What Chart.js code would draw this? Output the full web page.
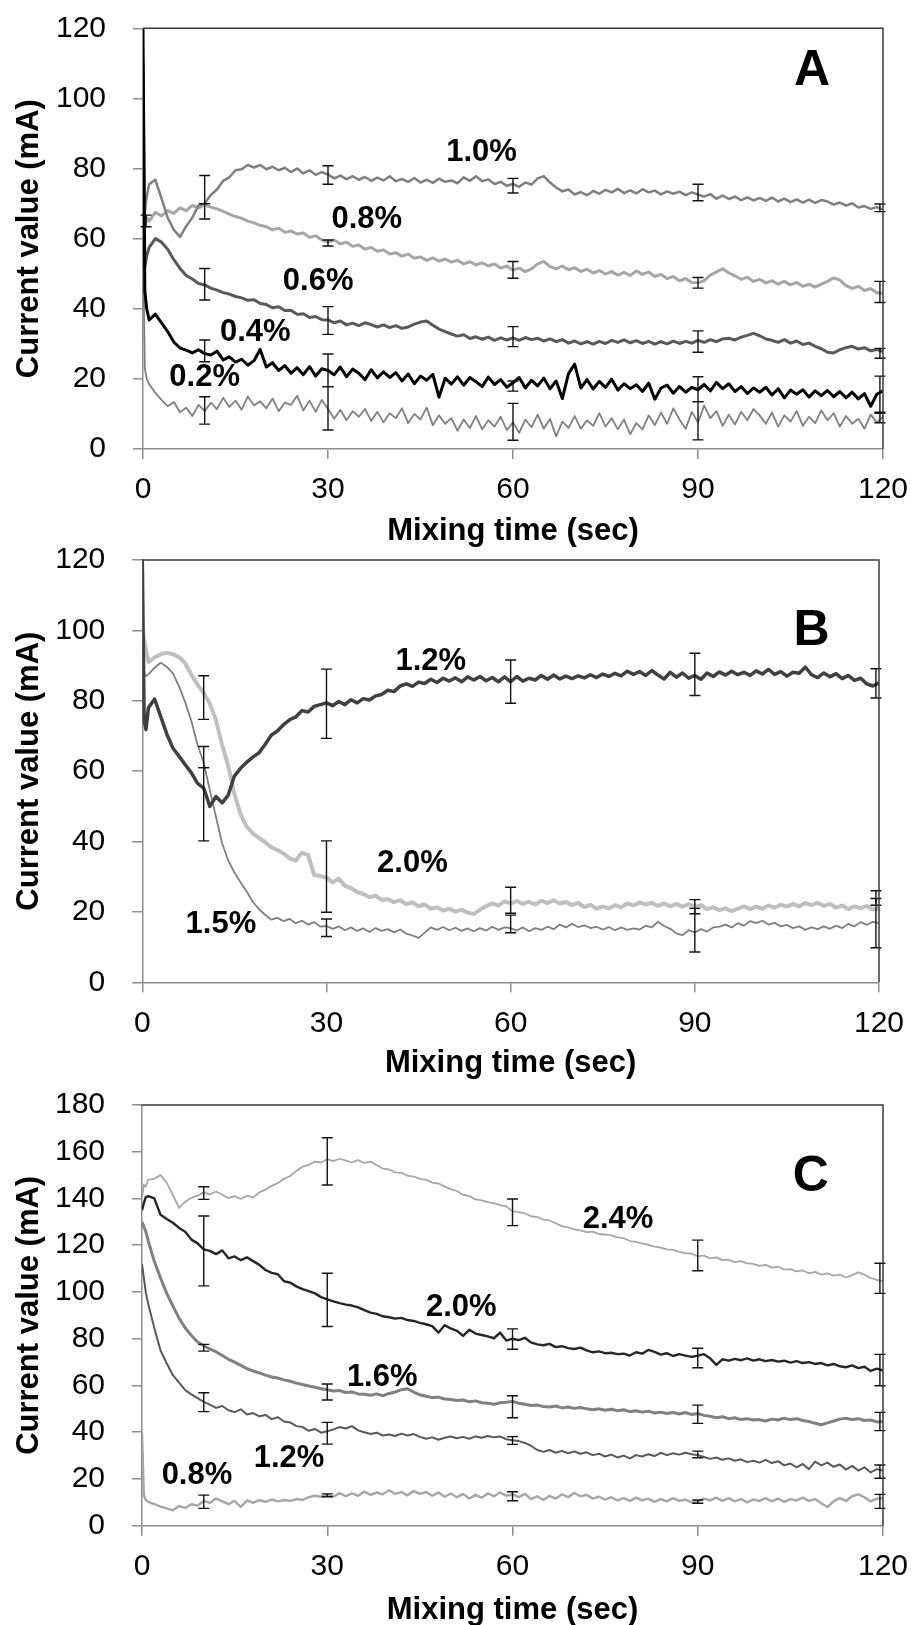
<!DOCTYPE html>
<html><head><meta charset="utf-8">
<script src="https://cdn.jsdelivr.net/npm/chart.js@4.4.1/dist/chart.umd.min.js"></script>
<style>
html,body{margin:0;padding:0;background:#fff;width:914px;height:1625px;overflow:hidden}
canvas{position:absolute;left:0}
</style></head><body>
<canvas id="cA" width="914" height="550" style="top:0px"></canvas>
<canvas id="cB" width="914" height="555" style="top:530px"></canvas>
<canvas id="cC" width="914" height="565" style="top:1065px"></canvas>
<script>
// ---------- shared sampling times (sec) ----------
const timeSec = [0, 0.3, 0.6, 1, 2, 3, 4, 5, 6, 7,
 8, 9, 10, 11, 12, 13, 14, 15, 16, 17,
 18, 19, 20, 21, 22, 23, 24, 25, 26, 27,
 28, 29, 30, 31, 32, 33, 34, 35, 36, 37,
 38, 39, 40, 41, 42, 43, 44, 45, 46, 47,
 48, 49, 50, 51, 52, 53, 54, 55, 56, 57,
 58, 59, 60, 61, 62, 63, 64, 65, 66, 67,
 68, 69, 70, 71, 72, 73, 74, 75, 76, 77,
 78, 79, 80, 81, 82, 83, 84, 85, 86, 87,
 88, 89, 90, 91, 92, 93, 94, 95, 96, 97,
 98, 99, 100, 101, 102, 103, 104, 105, 106, 107,
 108, 109, 110, 111, 112, 113, 114, 115, 116, 117,
 118, 119, 120];
const xTicksSec = [0, 30, 60, 90, 120];
const errTimes = [10, 30, 60, 90, 119.5];
const errTimesA = [0.5, 10, 30, 60, 90, 119.5];

// ---------- Panel A (mA) ----------
const panelA_10 = [65, 68, 72, 75.5, 76.8, 71.5, 66, 62.5, 60.5, 63.5,
 66, 69.5, 70, 72.5, 74, 76.5, 77.5, 79.5, 79.8, 81,
 80.3, 81, 79.8, 80.5, 79.5, 80.2, 79, 80, 78.6, 79.5,
 78.2, 79, 78.3, 77.2, 78, 77, 77.8, 76.8, 77.6, 76.5,
 77.4, 76.6, 77.8, 76.4, 77, 76.2, 77.3, 76, 76.8, 75.9,
 77.1, 76.2, 76.6, 75.8, 77.5, 76.5, 77.8, 76.4, 76.9, 75.6,
 76.2, 75.1, 75.6, 74.8, 76, 75.4, 77.2, 77.8, 76, 74.6,
 73.5, 74, 72.6, 73.3, 72.4, 73.6, 72.8, 73.9, 73.2, 74.2,
 73, 73.8, 72.9, 74.1, 73.2, 73.7, 72.6, 73.5, 72.8, 73.4,
 72.4, 73.2, 72.6, 72, 72.7, 71.4, 72.3, 71.3, 72, 71,
 71.8, 70.9, 71.6, 70.8, 71.7, 70.6, 71.4, 70.4, 71.2, 70.3,
 71.1, 70.2, 71, 70.6, 69.7, 70.3, 69.4, 70.1, 68.9, 69.3,
 68.5, 69, 68.3];
const panelA_08 = [63, 64, 66, 65, 67.5, 66.5, 68, 67.2, 68.8, 68,
 69.5, 68.8, 69.6, 69, 68.5, 67.8, 67, 66.3, 65.8, 65,
 64.5, 63.8, 63.4, 62.5, 63, 61.8, 62.2, 61.3, 61.6, 60.4,
 60.8, 59.6, 59, 59.6, 58.5, 59, 57.8, 58.2, 57, 57.5,
 56.4, 56.8, 55.6, 56, 55, 55.6, 54.4, 54.8, 53.8, 54.5,
 53.6, 54.2, 53.3, 53.8, 52.8, 53.4, 52.5, 53.1, 52.2, 52.8,
 51.6, 52.2, 51, 51.6, 50.6, 51.4, 52.8, 53.5, 52, 51.4,
 52.2, 51.1, 51.7, 50.6, 51.3, 50.2, 50.9, 49.9, 50.6, 49.6,
 50.4, 49.5, 50.8, 49.8, 50.5, 49.2, 49.8, 48.6, 49.2, 48,
 48.6, 47.5, 47.4, 48, 49.6, 50.5, 51.4, 50.2, 49.4, 48.4,
 49, 47.8, 48.4, 47.4, 48, 47, 47.8, 46.8, 47.5, 46.4,
 47, 46.2, 47, 47.8, 48.8, 48.2, 46.6, 45.8, 46.4, 45.2,
 45.8, 44.6, 44.4];
const panelA_06 = [110, 52, 55, 57.5, 60, 59, 57, 54, 51.5, 49.5,
 48.5, 47.2, 46.8, 45.9, 45.3, 44.6, 44.2, 43.5, 43.1, 42.4,
 42.6, 41.5, 41.2, 40.3, 40.6, 39.5, 39.6, 38.4, 38.6, 37.5,
 37.8, 36.9, 36.8, 36, 36.5, 35.4, 35.9, 35.2, 36, 35.5,
 34.8, 35.4, 34.6, 35.2, 34.4, 34.8, 35.6, 36.2, 36.5, 35.3,
 34.2, 33.5, 32.8, 32.2, 32.6, 31.5, 32, 31.3, 31.9, 31,
 31.7, 31.1, 31.7, 31, 31.8, 31.2, 31.6, 30.8, 31.4, 30.6,
 31.2, 30.2, 30.8, 30, 30.6, 29.9, 30.7, 30.1, 31, 30.4,
 31.1, 30.3, 30.9, 30.1, 30.7, 29.9, 30.6, 30, 30.8, 30.1,
 30.7, 30.2, 31, 30.4, 31.2, 30.6, 31.4, 31.6, 31.1, 31.9,
 32.4, 33, 32.3, 31.4, 31, 30.4, 31.2, 30.2, 30.8, 29.8,
 30.2, 29.3, 28.6, 27.6, 27.4, 28.3, 28.9, 29.3, 28.5, 28.9,
 28, 28.4, 27.8];
const panelA_04 = [120, 45, 40, 36.8, 38.5, 36, 33.5, 30.5, 28.8, 28.2,
 27.4, 28.3, 27.2, 26.8, 27.9, 25.4, 26.3, 24.8, 25.6, 23.9,
 25.2, 28.4, 23.4, 24.6, 22.4, 23.8, 21.6, 23.2, 21.2, 23.5,
 20.8, 22.9, 22.4, 21.2, 23.4, 20.6, 22.8, 21.6, 19.8, 22.6,
 20.3, 22, 20.4, 21.8, 19.4, 21.4, 18.6, 20.8, 19.6, 21.3,
 14.8, 20.2, 18.5, 20.6, 18.2, 20.4, 19.2, 17.8, 20.5, 18.4,
 19.8, 17.6, 18.9, 20.4, 17.4, 19.6, 18, 20.2, 17.2, 19.4,
 14.4, 21.5, 24.2, 17.4, 19.8, 17.1, 19.3, 17.6, 19.9, 16.8,
 18.6, 17.2, 18.3, 16.4, 18.8, 14.2, 17.4, 18.2, 15.9, 17.8,
 16.2, 17.6, 16.9, 18.4, 16.6, 19, 17.2, 18.6, 16.4, 17.8,
 15.8, 17.4, 16.2, 17.6, 15.4, 17.2, 14.6, 16.8, 15.6, 16.9,
 14.8, 16.6, 15.2, 16.7, 14.9, 16.4, 14.6, 16.2, 14.3, 15.8,
 12.2, 15.6, 16.6];
const panelA_02 = [60, 23, 20, 18.5, 16, 14, 12.2, 13.4, 10.5, 11.8,
 9.4, 12.6, 10.8, 13.2, 11.4, 14.6, 12, 13.8, 11.2, 15,
 12.4, 13.6, 11.6, 14.4, 10.8, 13.2, 12.6, 15.2, 11, 13.8,
 10.6, 14, 11.4, 8.6, 11.2, 8.2, 10.8, 9.2, 11.4, 8,
 10.6, 7.6, 10.2, 8.8, 11.6, 7.4, 10, 8.4, 11.8, 6.8,
 9.6, 7.2, 8.8, 5.2, 8.4, 6, 9.4, 5.6, 8.2, 6.4,
 9.2, 5.4, 7.6, 4.6, 8.4, 6.2, 9.8, 5.8, 8.6, 3.6,
 7.8, 6, 9.4, 5.8, 8.2, 6.6, 10.2, 6.4, 8.8, 5.6,
 8.4, 4.2, 7.4, 5.6, 9.6, 6.8, 10.4, 7.2, 11.6, 8.4,
 5.8, 10.6, 7.6, 12.4, 8.8, 10.8, 6.6, 9.8, 7, 10.6,
 8.2, 11.4, 9.6, 7.2, 10.4, 6.4, 9.6, 7.8, 10.8, 6.6,
 9.2, 7.4, 11, 8.2, 10.2, 6.4, 9.4, 7.2, 8.6, 5.8,
 9.8, 7.6, 9.2];
// error bars panel A (low / high), aligned with errTimesA
const errA_10_lo = [null, 70, 75.5, 73, 70.8, 67.7];
const errA_10_hi = [null, 78, 80.8, 77.2, 75.5, 69.9];
const errA_08_lo = [63.4, 65.6, 57.9, 48.7, 45.9, 41.8];
const errA_08_hi = [66.7, 70, 59.6, 53.5, 48.9, 47.8];
const errA_06_lo = [null, 42.5, 32.7, 29.2, 27.6, 25.9];
const errA_06_hi = [null, 51.5, 40.6, 34.9, 33.7, 28.7];
const errA_04_lo = [null, 24.9, 17.8, 16.5, 13.5, 10.2];
const errA_04_hi = [null, 31.1, 27.1, 19.4, 20.6, 20.8];
const errA_02_lo = [null, 7.1, 5.4, 2.5, 2.6, 7.5];
const errA_02_hi = [null, 14.9, 17.8, 13, 13.5, 10.5];

// ---------- Panel B (mA) ----------
const panelB_12 = [120, 74.5, 71.8, 78, 80.5, 75.5, 70.5, 66.5, 64.2, 61.8,
 59.5, 56.5, 55.2, 50, 52.8, 51, 53.2, 58.6, 60.8, 62.5,
 64, 65.2, 67.6, 70.2, 71.4, 73.2, 74.6, 75.4, 77.2, 76.8,
 78.4, 78.9, 79.4, 78.6, 79.8, 78.9, 80.3, 79.4, 80.6, 80.2,
 81.4, 81.8, 83, 82.6, 84.2, 84.8, 84.1, 85.3, 84.9, 86.1,
 85.2, 86.4, 85.6, 86.5, 85.4, 86.8, 85.9, 86.9, 85.7, 86.6,
 85.4, 86.8, 85.4, 86.9, 85.6, 86.4, 85.9, 87.2, 86.1, 87.3,
 86.2, 87, 86.3, 87.1, 86.5, 87.4, 86.6, 87.6, 86.9, 87.8,
 87.1, 88.4, 87.5, 88.3, 87.2, 88.6, 87.3, 86.2, 88.1, 86.7,
 87.9, 86.4, 87.2, 86.1, 87.9, 86.9, 88.2, 87.3, 88.4, 87.4,
 88.1, 87.2, 88.5, 87.6, 88.9, 87.5, 88.3, 87, 88.1, 87.8,
 89.6, 87.4, 86.6, 87.9, 86.8, 87.7, 86.3, 87.2, 85.8, 86.4,
 84.8, 84.2, 85.1];
const panelB_20 = [100, 97, 94.5, 91, 92.3, 93.2, 93.6, 93.2, 92.4, 90.6,
 87.4, 84.6, 82.2, 79.2, 74.5, 67.5, 61.5, 53.5, 47.8, 44.2,
 42.3, 41, 39.8, 38.4, 37.6, 36.6, 35.2, 34.6, 36.8, 36.2,
 30.5, 30.2, 29.8, 28.4, 29.5, 27.4, 26.8, 25.6, 25.1, 24.2,
 24.6, 23.4, 23.6, 22.8, 23.3, 22.2, 22.7, 21.6, 22.1, 20.9,
 21.3, 20.4, 20.9, 20.1, 20.6, 19.8, 19.4, 20.6, 21.6, 22.4,
 21.8, 23, 22.4, 23.1, 22.3, 22.9, 22.1, 23.2, 22.5, 23.3,
 22.4, 22.8, 21.9, 22.6, 21.4, 22, 20.9, 21.5, 21, 21.9,
 21.3, 22.4, 21.8, 22.7, 22.1, 22.6, 21.7, 22.4, 21.6, 22.3,
 21.5, 22.2, 21.4, 21.9, 20.8, 21.3, 20.5, 21, 20.2, 20.9,
 21.6, 20.8, 21.5, 20.9, 21.8, 21.2, 22.1, 21.5, 22.3, 21.6,
 22.5, 21.9, 22.6, 21.7, 22.3, 21.2, 21.8, 20.8, 21.6, 21,
 21.7, 20.7, 21];
const panelB_15 = [96, 88, 87, 87.5, 89.4, 90.8, 89.6, 87.8, 84, 79.5,
 74.2, 67.5, 62.4, 54.6, 47, 39.5, 34.6, 31.2, 28.4, 25.8,
 22.9, 20.8, 19.2, 17.8, 18.3, 17.4, 18, 16.8, 17.5, 16.4,
 17.1, 15.8, 16, 15.2, 15.9, 14.8, 15.6, 14.6, 15.3, 14.3,
 15.4, 14.6, 15.1, 14.2, 15, 13.8, 13.3, 12.6, 14.1, 15.6,
 14.9, 15.7, 14.8, 15.5, 14.6, 15.3, 14.5, 15.4, 14.7, 15.8,
 14.9, 15.6, 15.4, 14.7, 15.6, 14.5, 15.4, 14.9, 15.8, 15.1,
 16.4, 15.6, 16.6, 15.7, 16.2, 15.4, 15.8, 15, 15.7, 14.8,
 15.6, 14.9, 15.3, 15, 16.1, 15.6, 17.2, 16, 15.2, 13.9,
 13.4, 14.8, 14.2, 15.1, 14.4, 15.6, 15.8, 16.4, 15.6, 16.8,
 16.1, 17.4, 16.8, 17.5, 16.4, 16.9, 15.9, 16.3, 15.4, 15.9,
 14.9, 15.6, 15.1, 15.9, 15.2, 16.1, 15.4, 16.6, 15.9, 17.1,
 16.3, 17.2, 16.8];
const errB_12_lo = [40.2, 69.3, 79.3, 81.5, 80.8];
const errB_12_hi = [61, 89, 91.6, 93.5, 89.1];
const errB_20_lo = [74.7, 19.9, 19.6, 19.5, 21.9];
const errB_20_hi = [87.1, 40.2, 27, 23.5, 26];
const errB_15_lo = [61, 13, 14.1, 8.6, 9.8];
const errB_15_hi = [67, 18, 19.1, 21, 23.8];

// ---------- Panel C (mA) ----------
const panelC_24 = [140, 146, 145, 148, 148.5, 150, 146.8, 141.5, 136, 138.6,
 140.3, 141.2, 142.6, 141.8, 143, 141.6, 140.2, 141, 139.8, 141.2,
 140.4, 142.6, 143.8, 145.4, 146.6, 148.4, 149.6, 151.8, 153.6, 154.4,
 155.8, 155.4, 156.8, 156, 157, 156.2, 155.4, 156.4, 155.2, 155.8,
 154.2, 152.8, 152.4, 151.2, 151, 149.8, 149.4, 148.4, 148, 146.8,
 146.4, 145.2, 144, 143.2, 141.6, 141, 139.6, 139.2, 138.4, 137.9,
 137.2, 136.6, 134.6, 134.2, 133.6, 132.4, 132, 131, 130.6, 129.4,
 128.2, 127.6, 126.8, 126.4, 125.6, 125.8, 124.8, 124.6, 124.2, 123.4,
 123, 121.8, 121.4, 120.8, 120.2, 119.4, 119, 118.2, 118, 117.2,
 116.6, 116.4, 115.2, 115.6, 114.4, 114.8, 113.6, 113.8, 112.8, 113.2,
 112.2, 112, 111.2, 111.6, 110.4, 110.8, 109.6, 109.8, 108.8, 109.2,
 108, 108.6, 107.4, 108, 107, 107.4, 106.2, 107.2, 108.4, 107.4,
 106, 105.2, 104.6];
const panelC_20 = [135, 138, 140.5, 141, 140, 133, 131.2, 129.6, 127.4, 125.8,
 122.4, 120.8, 118.2, 117.6, 116.2, 117.8, 114.4, 115.2, 113.6, 114.8,
 113.2, 111.6, 109.4, 108.2, 107.6, 104.6, 104, 102.4, 101.2, 100.4,
 99.4, 97.8, 96.8, 96, 95.2, 94.6, 94.2, 93.4, 92.2, 91.2,
 90.6, 89.6, 89.2, 88.6, 88.9, 88, 87.6, 86.8, 86.2, 85.4,
 82.6, 85.8, 84.4, 83.4, 81.2, 83.8, 82.2, 81.6, 81, 80.2,
 82.6, 79.2, 80, 79.4, 80.4, 78.4, 77.6, 77.2, 77.8, 76.4,
 76.8, 76, 75.6, 76.2, 75, 74.2, 74.6, 73.8, 74, 73.4,
 73.6, 72.8, 74.2, 73.6, 75.2, 74.4, 73.2, 73.8, 72.6, 73.4,
 72.8, 72.2, 72.8, 73.4, 71.6, 68.8, 71.2, 70.6, 71.4, 70.8,
 71.6, 70.6, 71.2, 70.4, 70.9, 70.2, 70.6, 69.8, 70.4, 69.6,
 70, 69.2, 69.6, 68.6, 69.2, 68.2, 67.8, 68.6, 67.4, 68,
 66.2, 67.2, 66.4];
const panelC_16 = [130, 128, 126, 122, 113, 106, 99.4, 94, 88.8, 84.6,
 81.4, 78.6, 77, 75.6, 74.4, 72.8, 71.2, 70, 68.6, 67.2,
 66.2, 65.4, 64.4, 63.6, 63.2, 62.4, 61.8, 61, 60.4, 59.8,
 59.2, 58.6, 58.2, 57.6, 57.8, 57, 57.2, 56.4, 56.2, 55.8,
 56.4, 55.6, 56.6, 57.2, 58.2, 58.6, 57.2, 56, 55.4, 54.8,
 55, 54.2, 54, 53.6, 53.8, 53, 53.4, 52.6, 52.4, 52,
 52.6, 52.8, 53.2, 52.4, 52, 51.4, 51.6, 51, 50.8, 51.2,
 50.4, 50.8, 50.2, 50.6, 50, 49.6, 50, 49.4, 49.8, 49.2,
 49.6, 48.8, 49.2, 48.6, 49, 48.2, 48.6, 48, 48.4, 47.8,
 48.4, 47.6, 48, 47.2, 46.8, 46.2, 46.6, 45.8, 46.2, 45.4,
 45.8, 45.2, 45.4, 44.8, 45.6, 45.2, 46, 45.4, 45.8, 45,
 44.6, 43.8, 43.2, 44, 44.8, 45.6, 46, 45.4, 45.8, 45,
 45.2, 44.4, 44.6];
const panelC_12 = [112, 106, 100, 95, 84.5, 75, 69.5, 64.4, 61.2, 58,
 56.2, 54.6, 53, 51.8, 50.4, 51.2, 49.4, 48.6, 49.8, 47.6,
 48.2, 46.8, 47.4, 45.6, 46.4, 44.6, 44.2, 42.6, 42.2, 40.6,
 41.4, 39.8, 40.4, 41.2, 42.2, 41.6, 42.6, 40.8, 40, 39.2,
 39.8, 38.6, 39, 38.4, 39.4, 38.6, 39.2, 38, 37.2, 37.8,
 36.8, 37.6, 38.2, 37.4, 38, 37.2, 38.2, 37.6, 38.4, 37.8,
 38.2, 37, 36.6, 36.2, 35.4, 34.2, 32.4, 31.6, 32.4, 31.2,
 32, 31, 31.8, 30.8, 31.4, 30.2, 30.8, 29.6, 30.4, 29.2,
 30, 28.8, 30.2, 29.6, 30.6, 29.8, 31.2, 30.2, 31, 30.4,
 31.2, 30.6, 30.2, 29.4, 28.6, 29.2, 28.2, 28.8, 27.8, 28.4,
 27.2, 27.8, 27, 28.2, 26.8, 27.6, 25.8, 26.6, 25, 26.4,
 24.2, 27.4, 25.8, 27, 25.2, 26.2, 24, 25.6, 23.6, 25,
 22.8, 24.2, 23.6];
const panelC_08 = [40, 13, 11, 10.2, 9.2, 8.2, 7.4, 6.6, 8.4, 7.6,
 9.2, 8.6, 10.6, 9.8, 11.6, 10.4, 9.2, 10.6, 8, 10.8,
 9.8, 11, 10.2, 11.2, 10.4, 11, 10.6, 11.4, 11, 12.2,
 12.8, 12.4, 13.2, 12.4, 14, 12.6, 13.8, 12.8, 14.6, 13.2,
 14.2, 13.4, 15.2, 13.6, 14.4, 13, 14.8, 13.6, 14.4, 12.8,
 14.2, 12.4, 13.8, 12.2, 13.6, 11.6, 13.2, 12, 13.8, 12.6,
 14.2, 12.8, 13.4, 12.2, 13.6, 11.4, 12.6, 11, 12.8, 11.6,
 13.4, 12.2, 14, 12.6, 13.2, 11.6, 12.4, 11.2, 12.2, 10.8,
 11.8, 10.6, 12, 10.8, 11.6, 10.2, 11.4, 10.4, 11.8, 10.6,
 11.2, 10, 10.4, 11.6, 10.8, 12, 10.6, 11.8, 10.4, 11.4,
 10, 11.2, 10.6, 11.8, 10.4, 11.6, 10.2, 11.4, 10.8, 12,
 10.6, 11.4, 9.6, 8, 10.4, 11.8, 10.6, 12.6, 13.4, 12.2,
 10.4, 11.6, 11.8];
const errC_24_lo = [139.6, 145.8, 128.4, 109.1, 99.4];
const errC_24_hi = [145, 166, 139.8, 122.2, 112.3];
const errC_20_lo = [102.6, 85.2, 75.5, 67.6, 59.9];
const errC_20_hi = [132.5, 108, 84.2, 75.9, 73.3];
const errC_16_lo = [74.7, 53.8, 46.2, 43.8, 40.7];
const errC_16_hi = [77.6, 60.6, 55.6, 51.6, 48.5];
const errC_12_lo = [48.8, 34.9, 34.8, 29.1, 20.3];
const errC_12_hi = [56.9, 44.2, 38.1, 31.9, 26];
const errC_08_lo = [7.4, 12.4, 10.7, 9.6, 7.4];
const errC_08_hi = [13.1, 13.6, 14.5, 11, 13.4];

// ---------- text annotations (data coordinates) ----------
const labelsA = [
  {text: '1.0%', x: 54.9, y: 84.5}, {text: '0.8%', x: 36.3, y: 65.6},
  {text: '0.6%', x: 28.4, y: 47.9}, {text: '0.4%', x: 18.2, y: 33.2},
  {text: '0.2%', x: 10.0, y: 20.3}, {text: 'A', x: 108.5, y: 107.9, big: true}];
const labelsB = [
  {text: '1.2%', x: 47.0, y: 91.3}, {text: '2.0%', x: 44.0, y: 33.9},
  {text: '1.5%', x: 12.8, y: 16.4}, {text: 'B', x: 109.0, y: 99.8, big: true}];
const labelsC = [
  {text: '2.4%', x: 77.1, y: 131.2}, {text: '2.0%', x: 51.7, y: 93.4},
  {text: '1.6%', x: 38.9, y: 63.4}, {text: '1.2%', x: 23.8, y: 28.8},
  {text: '0.8%', x: 8.9, y: 21.3}, {text: 'C', x: 108.3, y: 149.0, big: true}];

// ---------- drawing ----------
const FONT = "'Liberation Sans', Arial, Helvetica, sans-serif";

const framePlugin = {
  id: 'frame',
  afterDraw(chart) {
    const {ctx, chartArea: a} = chart;
    ctx.save();
    ctx.strokeStyle = '#3a3a3a';
    ctx.lineWidth = 1.5;
    ctx.beginPath();
    ctx.moveTo(a.left, a.top); ctx.lineTo(a.right, a.top); ctx.lineTo(a.right, a.bottom);
    ctx.stroke();
    ctx.restore();
  }
};

function errorPlugin(times, bars) {
  return {
    id: 'errbars',
    afterDatasetsDraw(chart) {
      const {ctx, scales: {x, y}} = chart;
      ctx.save();
      ctx.strokeStyle = '#111';
      ctx.lineWidth = 1.4;
      bars.forEach(b => {
        times.forEach((t, i) => {
          if (b.lo[i] == null) return;
          const px = x.getPixelForValue(t);
          const y1 = y.getPixelForValue(b.lo[i]);
          const y2 = y.getPixelForValue(b.hi[i]);
          ctx.beginPath();
          ctx.moveTo(px, y1); ctx.lineTo(px, y2);
          ctx.moveTo(px - 5.5, y1); ctx.lineTo(px + 5.5, y1);
          ctx.moveTo(px - 5.5, y2); ctx.lineTo(px + 5.5, y2);
          ctx.stroke();
        });
      });
      ctx.restore();
    }
  };
}

function labelPlugin(labels) {
  return {
    id: 'labels',
    afterDraw(chart) {
      const {ctx, scales: {x, y}} = chart;
      ctx.save();
      ctx.fillStyle = '#000';
      ctx.textAlign = 'center';
      ctx.textBaseline = 'middle';
      labels.forEach(l => {
        ctx.font = 'bold ' + (l.big ? 50 : 31) + 'px ' + FONT;
        ctx.fillText(l.text, x.getPixelForValue(l.x), y.getPixelForValue(l.y));
      });
      ctx.restore();
    }
  };
}

function makePanel(id, cfg) {
  const canvas = document.getElementById(id);
  const H = canvas.height;
  const datasets = cfg.series.map(s => ({
    label: s.name,
    data: timeSec.map((t, i) => ({x: t, y: s.values[i]})),
    borderColor: s.color,
    borderWidth: s.width,
    pointRadius: 0,
    tension: 0,
    fill: false,
    borderJoinStyle: 'round'
  }));
  return new Chart(canvas, {
    type: 'line',
    data: {datasets},
    options: {
      responsive: false, animation: false, devicePixelRatio: 1, parsing: false,
      events: [],
      layout: {autoPadding: false, padding: {top: cfg.area.top, right: 914 - cfg.area.right, left: 0, bottom: 0}},
      plugins: {legend: {display: false}, tooltip: {enabled: false}},
      scales: {
        x: {
          type: 'linear', min: 0, max: 120,
          afterBuildTicks(s) { s.ticks = xTicksSec.map(v => ({value: v})); },
          afterFit(s) { s.height = H - cfg.area.bottom; s.paddingLeft = 0; s.paddingRight = 0; },
          ticks: {color: '#000', font: {family: FONT, size: 30}, padding: 13, maxRotation: 0, autoSkip: false},
          grid: {display: true, drawOnChartArea: false, drawTicks: true, tickLength: 10, color: '#8c8c8c', lineWidth: 1.5},
          border: {display: true, color: '#8c8c8c', width: 1.5},
          title: {display: true, text: 'Mixing time (sec)', color: '#000',
                  font: {family: FONT, size: 31, weight: 'bold'}, padding: {top: 0, bottom: cfg.xTitlePad}}
        },
        y: {
          type: 'linear', min: 0, max: cfg.yMax,
          afterBuildTicks(s) { s.ticks = cfg.yTicks.map(v => ({value: v})); },
          afterFit(s) { s.width = cfg.area.left; s.paddingTop = 0; s.paddingBottom = 0; },
          ticks: {color: '#000', font: {family: FONT, size: 30}, padding: 27, autoSkip: false},
          grid: {display: true, drawOnChartArea: false, drawTicks: true, tickLength: 10, color: '#8c8c8c', lineWidth: 1.5},
          border: {display: true, color: '#8c8c8c', width: 1.5},
          title: {display: true, text: 'Current value (mA)', color: '#000',
                  font: {family: FONT, size: 31, weight: 'bold'}, padding: {top: 11, bottom: 0}}
        }
      }
    },
    plugins: [framePlugin, errorPlugin(cfg.errTimes, cfg.errors), labelPlugin(cfg.labels)]
  });
}

const yTicks120 = [0, 20, 40, 60, 80, 100, 120];
const yTicks180 = [0, 20, 40, 60, 80, 100, 120, 140, 160, 180];

makePanel('cA', {
  area: {left: 143, right: 883, top: 28.3, bottom: 449},
  xTitlePad: 0, yMax: 120, yTicks: yTicks120,
  series: [
    {name: '0.4%', values: panelA_04, color: '#000000', width: 3},
    {name: '0.6%', values: panelA_06, color: '#595959', width: 3},
    {name: '1.0%', values: panelA_10, color: '#7f7f7f', width: 2.5},
    {name: '0.8%', values: panelA_08, color: '#a6a6a6', width: 3},
    {name: '0.2%', values: panelA_02, color: '#808080', width: 1.8}
  ],
  errTimes: errTimesA,
  errors: [
    {lo: errA_10_lo, hi: errA_10_hi}, {lo: errA_08_lo, hi: errA_08_hi},
    {lo: errA_06_lo, hi: errA_06_hi}, {lo: errA_04_lo, hi: errA_04_hi},
    {lo: errA_02_lo, hi: errA_02_hi}],
  labels: labelsA
});

makePanel('cB', {
  area: {left: 142.3, right: 879, top: 30, bottom: 452.3},
  xTitlePad: 3.4, yMax: 120, yTicks: yTicks120,
  series: [
    {name: '1.2%', values: panelB_12, color: '#404040', width: 3.5},
    {name: '1.5%', values: panelB_15, color: '#7f7f7f', width: 1.8},
    {name: '2.0%', values: panelB_20, color: '#bfbfbf', width: 4}
  ],
  errTimes: errTimes,
  errors: [
    {lo: errB_12_lo, hi: errB_12_hi}, {lo: errB_20_lo, hi: errB_20_hi},
    {lo: errB_15_lo, hi: errB_15_hi}],
  labels: labelsB
});

makePanel('cC', {
  area: {left: 142, right: 883, top: 40, bottom: 460.7},
  xTitlePad: 1, yMax: 180, yTicks: yTicks180,
  series: [
    {name: '2.0%', values: panelC_20, color: '#262626', width: 2.4},
    {name: '1.2%', values: panelC_12, color: '#595959', width: 2},
    {name: '1.6%', values: panelC_16, color: '#808080', width: 3},
    {name: '2.4%', values: panelC_24, color: '#a6a6a6', width: 1.8},
    {name: '0.8%', values: panelC_08, color: '#a6a6a6', width: 2.4}
  ],
  errTimes: errTimes,
  errors: [
    {lo: errC_24_lo, hi: errC_24_hi}, {lo: errC_20_lo, hi: errC_20_hi},
    {lo: errC_16_lo, hi: errC_16_hi}, {lo: errC_12_lo, hi: errC_12_hi},
    {lo: errC_08_lo, hi: errC_08_hi}],
  labels: labelsC
});
</script>
</body></html>
